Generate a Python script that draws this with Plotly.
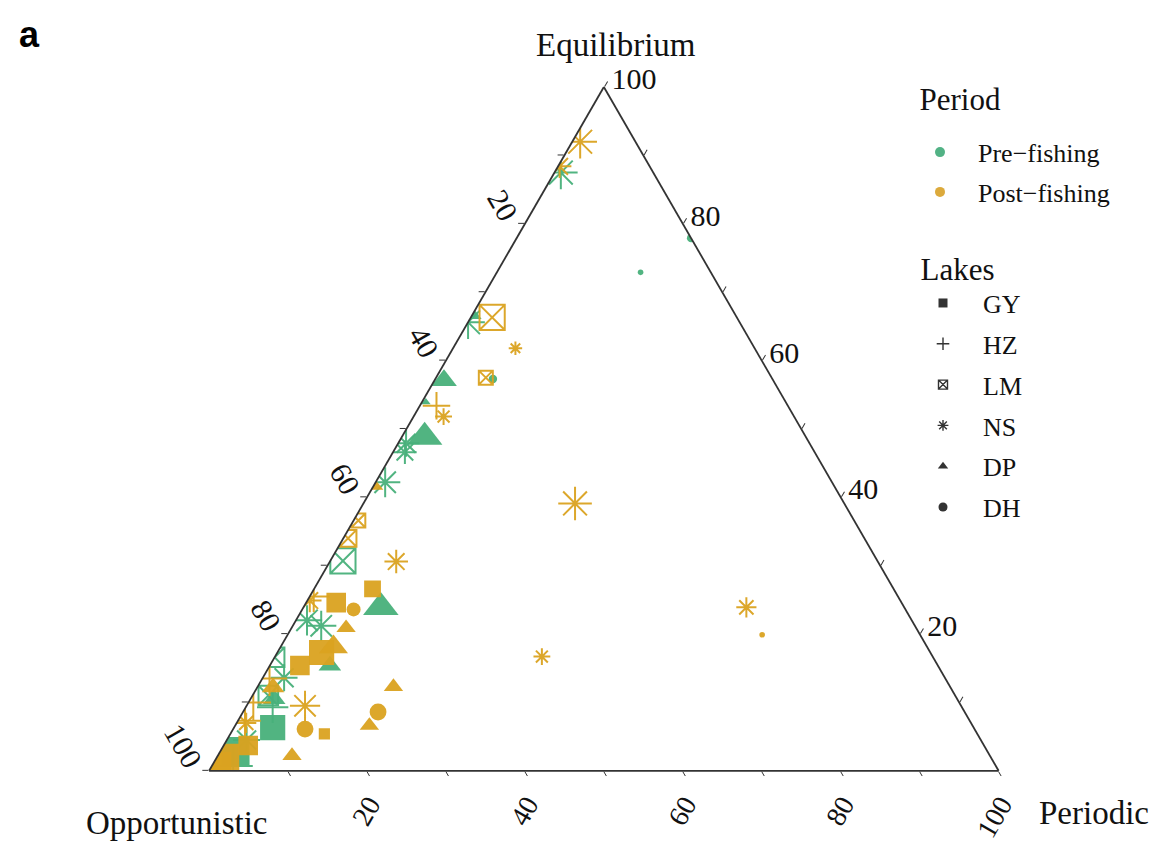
import plotly.graph_objects as go

# ---------------- data ----------------
lakes = ["GY", "HZ", "LM", "NS", "DP", "DH"]
period_names = ["Pre\u2212fishing", "Post\u2212fishing"]
period_keys = ["pre", "post"]

point_lake = [
    "NS", "NS", "NS", "DH", "DH", "NS", "DP", "LM", "NS", "LM",
    "DH", "DP", "HZ", "DP", "NS", "DP", "NS", "NS", "NS", "DP",
    "NS", "LM", "LM", "LM", "NS", "GY", "DP", "GY", "NS", "HZ",
    "DH", "DP", "NS", "NS", "GY", "DP", "DP", "GY", "LM", "NS",
    "DP", "HZ", "GY", "HZ", "NS", "DH", "GY", "DP", "GY", "HZ",
    "NS", "HZ", "GY", "GY", "GY", "HZ", "DP", "DH", "DP", "NS",
    "NS", "DH", "NS", "DP", "LM",
]
point_period = [
    "post", "post", "pre", "pre", "pre", "pre", "pre", "post", "post", "post",
    "pre", "pre", "post", "pre", "post", "pre", "pre", "pre", "pre", "post",
    "post", "post", "post", "pre", "post", "post", "pre", "post", "post", "post",
    "post", "post", "pre", "pre", "post", "post", "pre", "post", "pre", "pre",
    "post", "post", "pre", "pre", "post", "post", "post", "post", "post", "post",
    "post", "post", "post", "post", "pre", "pre", "post", "post", "post", "post",
    "post", "post", "pre", "pre", "pre",
]
equilibrium = [
    92.0, 88.4, 87.5, 77.9, 72.9, 65.6, 66.6, 66.3, 61.8, 57.5,
    57.3, 57.1, 53.4, 53.9, 51.8, 48.8, 47.9, 46.6, 42.2, 41.5,
    39.1, 36.6, 34.0, 30.7, 30.6, 26.6, 23.9, 24.6, 24.9, 25.5,
    23.6, 20.9, 22.0, 21.2, 17.3, 18.1, 15.4, 15.4, 16.6, 13.6,
    12.2, 13.5, 6.3, 9.3, 9.5, 6.1, 5.4, 2.2, 3.7, 7.3,
    7.0, 10.0, 0.5, 1.9, 2.9, 0.7, 12.3, 8.6, 6.6, 16.7,
    23.9, 19.9, 4.5, 10.5, 11.0,
]
opportunistic = [
    7.0, 11.4, 11.7, 0.0, 8.9, 34.4, 33.2, 31.0, 30.3, 36.2,
    35.4, 41.7, 44.5, 45.6, 44.4, 48.3, 51.1, 51.9, 56.6, 58.0,
    34.1, 62.8, 65.4, 67.7, 61.0, 66.0, 66.3, 71.6, 74.8, 74.0,
    69.9, 72.2, 76.6, 75.2, 77.1, 75.2, 77.0, 80.8, 83.4, 83.7,
    85.8, 85.6, 88.8, 87.3, 83.1, 84.8, 82.7, 88.4, 93.2, 91.8,
    91.8, 89.4, 98.9, 97.0, 95.2, 96.6, 70.5, 74.3, 76.4, 49.5,
    20.0, 20.0, 93.0, 86.5, 87.0,
]
periodic = [
    1.0, 0.2, 0.8, 22.1, 18.2, 0.0, 0.2, 2.7, 7.9, 6.3,
    7.3, 1.2, 2.1, 0.5, 3.8, 2.9, 1.0, 1.5, 1.2, 0.5,
    26.8, 0.6, 0.6, 1.6, 8.4, 7.4, 9.8, 3.8, 0.3, 0.5,
    6.5, 6.9, 1.4, 3.6, 5.6, 6.7, 7.6, 3.8, 0.0, 2.7,
    2.0, 0.9, 4.9, 3.4, 7.4, 9.1, 11.9, 9.4, 3.1, 0.9,
    1.2, 0.6, 0.6, 1.1, 1.9, 2.7, 17.2, 17.1, 17.0, 33.8,
    56.1, 60.1, 2.5, 3.0, 2.0,
]
# relative abundance of each sample (drives marker size)
abundance = [
    10, 7, 10, 3, 2, 10, 5, 9, 4, 5,
    3, 8, 7, 3, 5, 11, 8, 7, 9, 4,
    10, 5, 6, 9, 7, 6, 11, 7, 7, 8,
    5, 6, 9, 9, 9, 9, 7, 7, 7, 8,
    7, 9, 9, 8, 9, 6, 4, 6, 7, 8,
    6, 9, 11, 10, 10, 10, 6, 6, 6, 5,
    6, 2, 8, 7, 7,
]

axis_ticks = [0, 10, 20, 30, 40, 50, 60, 70, 80, 90]
axis_ticktext = ["100", "", "80", "", "60", "", "40", "", "20", ""]

# ---------------- styles ----------------
period_colors = {"pre": "rgba(72,176,122,0.95)", "post": "rgba(218,162,32,0.95)"}
legend_colors = {"pre": "#52b285", "post": "#dcaa3c"}
lake_symbols = {
    "GY": "square", "HZ": "cross-thin-open", "LM": "square-x-open",
    "NS": "asterisk-open", "DP": "triangle-up", "DH": "circle",
}
open_lakes = {"HZ", "LM", "NS"}
SERIF = "Liberation Serif, Times New Roman, serif"
SIZE_SCALE = 2.8
NB = "\u00a0"

fig = go.Figure()

for pk in period_keys:
    for lake in lakes:
        idx = [i for i in range(len(point_lake))
               if point_lake[i] == lake and point_period[i] == pk]
        if not idx:
            continue
        col = period_colors[pk]
        is_open = lake in open_lakes
        fig.add_trace(go.Scatterternary(
            a=[equilibrium[i] for i in idx],
            b=[opportunistic[i] for i in idx],
            c=[periodic[i] for i in idx],
            mode="markers",
            showlegend=False,
            hoverinfo="skip",
            marker=dict(
                symbol=lake_symbols[lake],
                size=[abundance[i] * SIZE_SCALE for i in idx],
                color=col, opacity=1,
                line=dict(color=col, width=2.0 if is_open else 0),
            ),
        ))

# legend entries: Period
for j, (pk, name) in enumerate(zip(period_keys, period_names)):
    extra = {}
    if j == 0:
        extra = dict(legendgrouptitle=dict(text=" ", font=dict(size=8)))
    fig.add_trace(go.Scatterternary(
        a=[None], b=[None], c=[None], mode="markers", name=name,
        legend="legend", legendgroup=pk,
        marker=dict(symbol="circle", size=10, color=legend_colors[pk]),
        **extra,
    ))

# legend entries: Lakes
for lake in lakes:
    is_open = lake in open_lakes
    fig.add_trace(go.Scatterternary(
        a=[None], b=[None], c=[None], mode="markers", name=lake,
        legend="legend2", legendgroup="lake_" + lake,
        marker=dict(symbol=lake_symbols[lake], size=9, color="#333333",
                    line=dict(color="#333333", width=1.4 if is_open else 0)),
    ))

axis_common = dict(
    tickmode="array", tickvals=axis_ticks, ticktext=axis_ticktext,
    ticks="outside", ticklen=6, tickwidth=1.2, tickcolor="#333333",
    linecolor="#333333", linewidth=1.8, showgrid=False,
    tickfont=dict(family=SERIF, size=30, color="#111111"),
    min=0, title=dict(text=""),
)

title_font = dict(family=SERIF, size=33, color="#111111")

fig.update_layout(
    width=1157, height=841,
    margin=dict(l=0, r=0, t=0, b=0),
    paper_bgcolor="white",
    font=dict(family=SERIF, color="#111111"),
    ternary=dict(
        sum=100,
        bgcolor="white",
        domain=dict(x=[0.168, 0.862], y=[0.093, 0.906]),
        aaxis=dict(axis_common, tickangle=60),
        baxis=dict(axis_common, tickangle=-60, ticklen=5,
                   tickfont=dict(family=SERIF, size=28, color="#111111")),
        caxis=dict(axis_common, tickangle=0),
    ),
    legend=dict(
        x=894 / 1157, y=0.927, xanchor="left", yanchor="top",
        title=dict(text=NB * 2 + "Period", font=dict(family=SERIF, size=31)),
        font=dict(family=SERIF, size=26), tracegroupgap=3,
        itemwidth=66,
        bgcolor="rgba(0,0,0,0)",
    ),
    legend2=dict(
        x=895 / 1157, y=0.725, xanchor="left", yanchor="top",
        title=dict(text=NB * 2 + "Lakes", font=dict(family=SERIF, size=31)),
        font=dict(family=SERIF, size=26), tracegroupgap=4,
        itemwidth=70,
        bgcolor="rgba(0,0,0,0)",
    ),
    annotations=[
        dict(text="<b>a</b>", x=0.008, y=0.995, xref="paper", yref="paper",
             xanchor="left", yanchor="top", showarrow=False,
             font=dict(family="Liberation Sans, Arial, sans-serif", size=36, color="#000000")),
        dict(text="Equilibrium", x=608 / 1157, y=1 - 37 / 841, xref="paper", yref="paper",
             xanchor="center", yanchor="middle", showarrow=False, font=title_font),
        dict(text="Opportunistic", x=168 / 1157, y=1 - 815 / 841, xref="paper", yref="paper",
             xanchor="center", yanchor="middle", showarrow=False, font=title_font),
        dict(text="Periodic", x=1086 / 1157, y=1 - 805 / 841, xref="paper", yref="paper",
             xanchor="center", yanchor="middle", showarrow=False, font=title_font),
    ],
)

fig.write_html("out.html")
